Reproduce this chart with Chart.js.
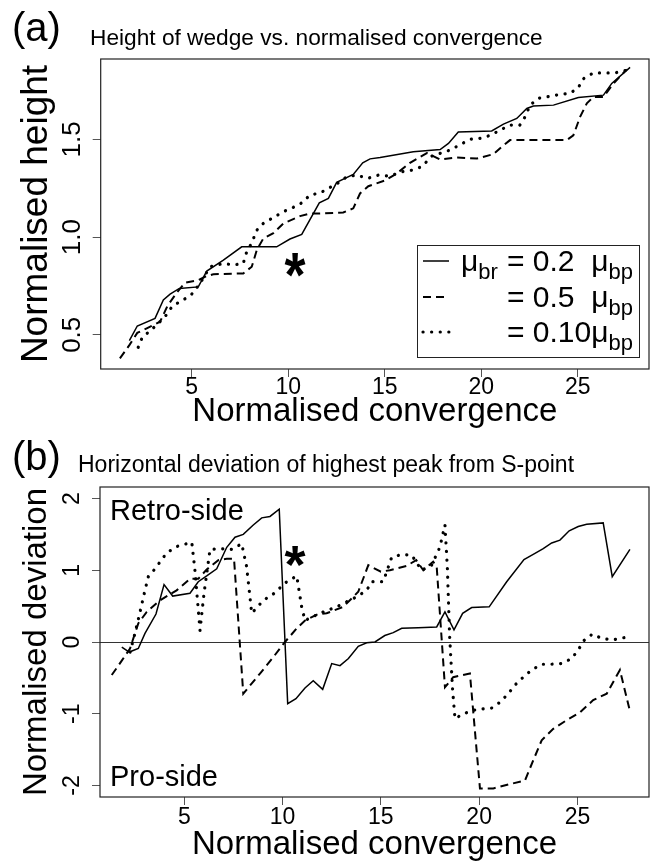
<!DOCTYPE html>
<html>
<head>
<meta charset="utf-8">
<script src="https://cdn.jsdelivr.net/npm/chart.js@4.4.1/dist/chart.umd.min.js"></script>
<style>
  html, body { margin: 0; padding: 0; background: #fff; }
  #wrap { position: relative; width: 652px; height: 867px; }
  canvas { position: absolute; left: 0; }
  #chartA { top: 0; }
  #chartB { top: 434px; }
</style>
</head>
<body>
<div id="wrap">
  <canvas id="chartA" width="652" height="434"></canvas>
  <canvas id="chartB" width="652" height="433"></canvas>
</div>
<script>
// ---- data: panel (a) height of wedge ----
const heightSolidX = [1.77, 2.18, 3.10, 3.53, 3.88, 4.36, 5.34, 5.78, 6.64, 7.59, 9.40, 10.09, 10.70, 11.61, 12.08, 12.51, 13.37, 13.86, 14.24, 14.76, 16.48, 17.87, 18.30, 18.81, 20.54, 21.15, 21.84, 22.36, 22.70, 23.74, 25.03, 26.33, 26.76, 27.71];
const heightSolidY = [0.47, 0.545, 0.584, 0.678, 0.708, 0.737, 0.745, 0.826, 0.882, 0.95, 0.95, 0.99, 1.014, 1.175, 1.198, 1.28, 1.32, 1.38, 1.40, 1.407, 1.436, 1.448, 1.479, 1.538, 1.543, 1.578, 1.607, 1.658, 1.67, 1.675, 1.714, 1.726, 1.786, 1.868];
const heightDashedX = [1.28, 1.77, 2.18, 2.67, 3.36, 3.74, 4.22, 4.65, 5.34, 5.69, 6.12, 7.67, 8.11, 8.37, 8.71, 9.23, 9.75, 10.61, 11.13, 11.65, 12.85, 13.37, 13.72, 14.15, 15.02, 15.62, 16.31, 17.18, 17.87, 18.64, 19.77, 20.63, 21.06, 21.49, 22.88, 24.43, 24.77, 25.12, 25.47, 25.81, 26.33, 26.85, 27.54];
const heightDashedY = [0.379, 0.447, 0.51, 0.533, 0.567, 0.647, 0.715, 0.766, 0.78, 0.797, 0.81, 0.814, 0.848, 0.933, 0.993, 1.02, 1.07, 1.107, 1.12, 1.12, 1.126, 1.147, 1.223, 1.26, 1.29, 1.325, 1.38, 1.43, 1.397, 1.407, 1.402, 1.424, 1.462, 1.496, 1.496, 1.496, 1.52, 1.615, 1.684, 1.717, 1.717, 1.786, 1.858];
const heightDottedX = [2.23, 2.44, 2.84, 3.27, 3.67, 4.0, 4.48, 4.96, 5.43, 5.95, 6.64, 7.16, 7.67, 7.85, 8.11, 8.37, 8.71, 9.23, 9.75, 10.26, 10.7, 11.13, 11.65, 12.08, 12.6, 13.03, 13.55, 14.1, 14.67, 15.27, 15.88, 16.4, 16.92, 17.44, 18.38, 19.42, 19.94, 20.46, 20.97, 21.49, 22.0, 22.27, 22.53, 22.96, 23.56, 24.08, 24.6, 25.03, 25.29, 25.81, 26.33, 26.93, 27.54];
const heightDottedY = [0.436, 0.487, 0.52, 0.558, 0.60, 0.647, 0.674, 0.703, 0.763, 0.848, 0.865, 0.857, 0.865, 0.925, 0.97, 1.035, 1.07, 1.10, 1.13, 1.152, 1.175, 1.215, 1.226, 1.249, 1.278, 1.308, 1.317, 1.30, 1.317, 1.312, 1.334, 1.342, 1.36, 1.414, 1.445, 1.50, 1.505, 1.52, 1.547, 1.573, 1.573, 1.615, 1.675, 1.71, 1.72, 1.73, 1.735, 1.765, 1.81, 1.84, 1.84, 1.84, 1.854];

// ---- data: panel (b) deviation of highest peak ----
const devSolidX = [1.82, 2.2, 2.66, 3.0, 3.56, 3.97, 4.41, 5.29, 5.71, 6.14, 6.65, 7.16, 7.58, 8.0, 8.51, 8.94, 9.36, 9.83, 10.26, 10.68, 11.14, 11.56, 12.04, 12.5, 12.92, 13.35, 13.85, 14.28, 14.7, 15.2, 15.63, 16.06, 16.9, 17.84, 18.26, 18.72, 19.16, 19.62, 20.51, 21.4, 22.28, 22.75, 23.26, 23.69, 24.11, 24.58, 25.04, 25.47, 26.31, 26.77, 27.67];
const devSolidY = [-0.07, -0.14, -0.09, 0.12, 0.39, 0.80, 0.64, 0.68, 0.84, 0.92, 1.02, 1.32, 1.46, 1.50, 1.63, 1.73, 1.75, 1.85, -0.86, -0.79, -0.64, -0.54, -0.66, -0.30, -0.33, -0.23, -0.06, -0.01, 0.0, 0.09, 0.13, 0.19, 0.20, 0.21, 0.42, 0.17, 0.40, 0.48, 0.49, 0.84, 1.15, 1.22, 1.30, 1.38, 1.42, 1.55, 1.61, 1.64, 1.66, 0.91, 1.29];
const devDashedX = [1.31, 1.82, 2.24, 2.66, 3.09, 3.76, 4.61, 5.29, 5.71, 6.14, 6.73, 7.16, 7.53, 8.0, 8.85, 9.53, 10.12, 10.72, 11.14, 11.82, 12.24, 13.09, 13.85, 14.36, 15.0, 15.46, 16.3, 16.8, 17.16, 17.66, 17.84, 18.26, 18.68, 19.53, 20.04, 20.72, 21.57, 22.33, 22.75, 23.18, 23.77, 24.45, 25.13, 25.8, 26.49, 27.16, 27.64];
const devDashedY = [-0.46, -0.26, -0.09, 0.26, 0.42, 0.58, 0.72, 0.88, 0.88, 1.01, 1.14, 1.16, 1.16, -0.72, -0.44, -0.21, 0.0, 0.19, 0.30, 0.39, 0.40, 0.49, 0.70, 1.07, 0.98, 1.0, 1.06, 1.14, 1.0, 1.12, 1.05, -0.63, -0.49, -0.44, -2.04, -2.04, -1.98, -1.93, -1.65, -1.37, -1.21, -1.09, -0.98, -0.81, -0.72, -0.39, -0.93];
const devDottedX = [2.24, 2.49, 2.75, 3.0, 3.17, 3.51, 4.1, 4.61, 5.38, 5.54, 5.8, 6.0, 6.31, 6.9, 7.41, 7.92, 8.17, 8.43, 9.02, 9.53, 10.21, 10.72, 10.97, 11.14, 11.9, 12.75, 13.26, 13.77, 14.28, 14.53, 15.12, 15.55, 16.06, 16.57, 17.07, 17.58, 18.0, 18.26, 18.38, 18.5, 18.65, 18.77, 19.19, 19.87, 20.64, 21.06, 21.48, 21.82, 22.24, 22.67, 23.18, 23.69, 24.2, 24.71, 25.04, 25.33, 25.76, 26.23, 26.79, 27.37];
const devDottedY = [-0.14, 0.12, 0.42, 0.72, 0.91, 1.02, 1.24, 1.33, 1.39, 1.0, 0.16, 0.67, 1.29, 1.30, 1.29, 1.37, 1.05, 0.40, 0.58, 0.67, 0.84, 0.92, 0.49, 0.30, 0.40, 0.49, 0.56, 0.63, 0.72, 0.84, 0.84, 1.18, 1.22, 1.21, 1.0, 1.07, 1.32, 1.63, 1.05, 0.07, -0.67, -1.07, -1.0, -0.94, -0.92, -0.84, -0.72, -0.60, -0.49, -0.39, -0.31, -0.31, -0.30, -0.23, -0.11, 0.02, 0.11, 0.05, 0.03, 0.06];

// ---- ticks & labels ----
const convTicks = [5, 10, 15, 20, 25];
const heightTicks = [0.5, 1.0, 1.5];
const devTicks = [-2, -1, 0, 1, 2];
const legendValues = ["= 0.2  ", "= 0.5  ", "= 0.10"];
const starA = { x: 10.35, y: 0.88 };
const starB = { x: 10.63, y: 1.26 };

const FONT = "'Liberation Sans', Arial, Helvetica, sans-serif";
const INK = "#000";

const lineStyles = {
  solid: { borderWidth: 1.5, borderDash: [], borderCapStyle: "butt" },
  dashed: { borderWidth: 2, borderDash: [8, 5], borderCapStyle: "butt" },
  dotted: { borderWidth: 3.2, borderDash: [0.1, 8.5], borderCapStyle: "round" }
};

function pts(xs, ys) {
  return xs.map((x, i) => ({ x, y: ys[i] }));
}

function series(xs, ys, kind) {
  return Object.assign({
    data: pts(xs, ys),
    borderColor: INK,
    pointRadius: 0,
    tension: 0,
    fill: false
  }, lineStyles[kind]);
}

function drawSample(ctx, kind, x1, x2, y) {
  const st = lineStyles[kind];
  ctx.save();
  ctx.strokeStyle = INK;
  ctx.lineWidth = st.borderWidth;
  ctx.lineCap = st.borderCapStyle;
  ctx.setLineDash(st.borderDash);
  ctx.beginPath();
  ctx.moveTo(x1, y);
  ctx.lineTo(x2, y);
  ctx.stroke();
  ctx.restore();
}

function muText(ctx, x, y, sub, size) {
  // μ with a subscript, returns end x
  ctx.font = `${size}px ${FONT}`;
  ctx.fillText("μ", x, y);
  x += ctx.measureText("μ").width;
  ctx.font = `${Math.round(size * 0.72)}px ${FONT}`;
  ctx.fillText(sub, x, y + size * 0.26);
  return x + ctx.measureText(sub).width;
}

const boxPlugin = {
  id: "box",
  afterDatasetsDraw(chart) {
    const { ctx, chartArea: a } = chart;
    ctx.save();
    ctx.strokeStyle = "#222";
    ctx.lineWidth = 1.2;
    ctx.strokeRect(a.left, a.top, a.right - a.left, a.bottom - a.top);
    ctx.restore();
  }
};

function star(chart, p, stretch) {
  const { ctx, scales } = chart;
  const cx = scales.x.getPixelForValue(p.x);
  const cy = scales.y.getPixelForValue(p.y);
  ctx.save();
  ctx.translate(cx, cy);
  ctx.scale(1, stretch);
  ctx.fillStyle = INK;
  ctx.font = `bold 54px ${FONT}`;
  ctx.textAlign = "center";
  ctx.textBaseline = "alphabetic";
  ctx.fillText("*", 0, 31);
  ctx.restore();
}

function header(ctx, tag, title, base, titleX, titleBase, titleSize) {
  ctx.save();
  ctx.fillStyle = INK;
  ctx.textBaseline = "alphabetic";
  ctx.font = `40px ${FONT}`;
  ctx.fillText(tag, 12, base);
  ctx.font = `${titleSize}px ${FONT}`;
  ctx.fillText(title, titleX, titleBase);
  ctx.restore();
}

const annotA = {
  id: "annotA",
  afterDraw(chart) {
    const ctx = chart.ctx;
    header(ctx, "(a)", "Height of wedge vs. normalised convergence", 41, 90, 45, 22.7);
    star(chart, starA, 1.15);
    // legend
    const lx = 417, ly = 245, lw = 222, lh = 112;
    ctx.save();
    ctx.fillStyle = "#fff";
    ctx.fillRect(lx, ly, lw, lh);
    ctx.strokeStyle = "#222";
    ctx.lineWidth = 1;
    ctx.strokeRect(lx + 0.5, ly + 0.5, lw, lh);
    const kinds = ["solid", "dashed", "dotted"];
    const rowY = [261, 297, 332];
    const size = 30;
    ctx.fillStyle = INK;
    ctx.textBaseline = "alphabetic";
    kinds.forEach((k, i) => {
      drawSample(ctx, k, 423, 449, rowY[i]);
      const base = rowY[i] + 10;
      if (i === 0) muText(ctx, 461, base, "br", size);
      ctx.font = `${size}px ${FONT}`;
      ctx.fillText(legendValues[i], 507, base);
      const ex = 507 + ctx.measureText(legendValues[i]).width;
      muText(ctx, ex, base, "bp", size);
    });
    ctx.restore();
  }
};

const annotB = {
  id: "annotB",
  afterDraw(chart) {
    const ctx = chart.ctx;
    header(ctx, "(b)", "Horizontal deviation of highest peak from S-point", 36, 78, 38, 23);
    star(chart, starB, 1);
    const a = chart.chartArea;
    ctx.save();
    ctx.fillStyle = INK;
    ctx.font = `29px ${FONT}`;
    ctx.textBaseline = "alphabetic";
    ctx.fillText("Retro-side", a.left + 10, a.top + 33);
    ctx.fillText("Pro-side", a.left + 10, a.bottom - 11);
    ctx.restore();
  }
};

function makeScales(o) {
  return {
    x: {
      type: "linear",
      min: o.xMin,
      max: o.xMax,
      afterBuildTicks: s => { s.ticks = convTicks.map(v => ({ value: v })); },
      afterFit: s => { s.height = o.xHeight; },
      border: { display: false },
      grid: { drawOnChartArea: false, drawTicks: true, tickLength: 8, tickColor: "#555", tickWidth: 1 },
      ticks: { color: INK, font: { family: FONT, size: 23 }, padding: o.xTickPad, maxRotation: 0, autoSkip: false },
      title: { display: true, text: "Normalised convergence", color: INK, font: { family: FONT, size: 33 }, padding: { top: 0, bottom: o.xTitlePad } }
    },
    y: {
      type: "linear",
      min: o.yMin,
      max: o.yMax,
      afterBuildTicks: s => { s.ticks = o.yTicks.map(v => ({ value: v })); },
      afterFit: s => { s.width = o.yWidth; },
      border: { display: false },
      grid: {
        drawOnChartArea: o.zeroLine,
        drawTicks: true,
        tickLength: 8,
        tickColor: "#555",
        tickWidth: 1,
        color: c => (c.tick && c.tick.value === 0 ? "#333" : "rgba(0,0,0,0)"),
        lineWidth: 1
      },
      ticks: {
        color: INK,
        font: { family: FONT, size: o.yTickSize },
        minRotation: 90,
        maxRotation: 90,
        crossAlign: "center",
        padding: o.yTickPad,
        autoSkip: false,
        callback: o.yFmt
      },
      title: { display: true, text: o.yTitle, color: INK, font: { family: FONT, size: o.yTitleSize }, padding: { top: o.yTitlePad, bottom: 0 } }
    }
  };
}

function baseOptions(scales, padTop) {
  return {
    responsive: false,
    animation: false,
    layout: { padding: { top: padTop, right: 3, left: 0, bottom: 0 } },
    plugins: { legend: { display: false }, tooltip: { enabled: false } },
    scales
  };
}

new Chart(document.getElementById("chartA"), {
  type: "line",
  data: {
    datasets: [
      series(heightSolidX, heightSolidY, "solid"),
      series(heightDashedX, heightDashedY, "dashed"),
      series(heightDottedX, heightDottedY, "dotted")
    ]
  },
  options: baseOptions(makeScales({
    xMin: 0.285, xMax: 28.69, xHeight: 65, xTitlePad: 2, xTickPad: -3,
    yMin: 0.325, yMax: 1.911, yWidth: 100.7, yTicks: heightTicks,
    yTitle: "Normalised height", yTitleSize: 37, yTitlePad: 15,
    yFmt: v => v.toFixed(1), yTickSize: 26, yTickPad: 2, zeroLine: false
  }), 59),
  plugins: [boxPlugin, annotA]
});

new Chart(document.getElementById("chartB"), {
  type: "line",
  data: {
    datasets: [
      series(devSolidX, devSolidY, "solid"),
      series(devDashedX, devDashedY, "dashed"),
      series(devDottedX, devDottedY, "dotted")
    ]
  },
  options: baseOptions(makeScales({
    xMin: 0.712, xMax: 28.64, xHeight: 70, xTitlePad: 2, xTickPad: -1,
    yMin: -2.16, yMax: 2.16, yWidth: 100, yTicks: devTicks,
    yTitle: "Normalised deviation", yTitleSize: 33, yTitlePad: 17,
    yFmt: v => String(v), yTickSize: 23, yTickPad: 9, zeroLine: true
  }), 53),
  plugins: [boxPlugin, annotB]
});
</script>
</body>
</html>
